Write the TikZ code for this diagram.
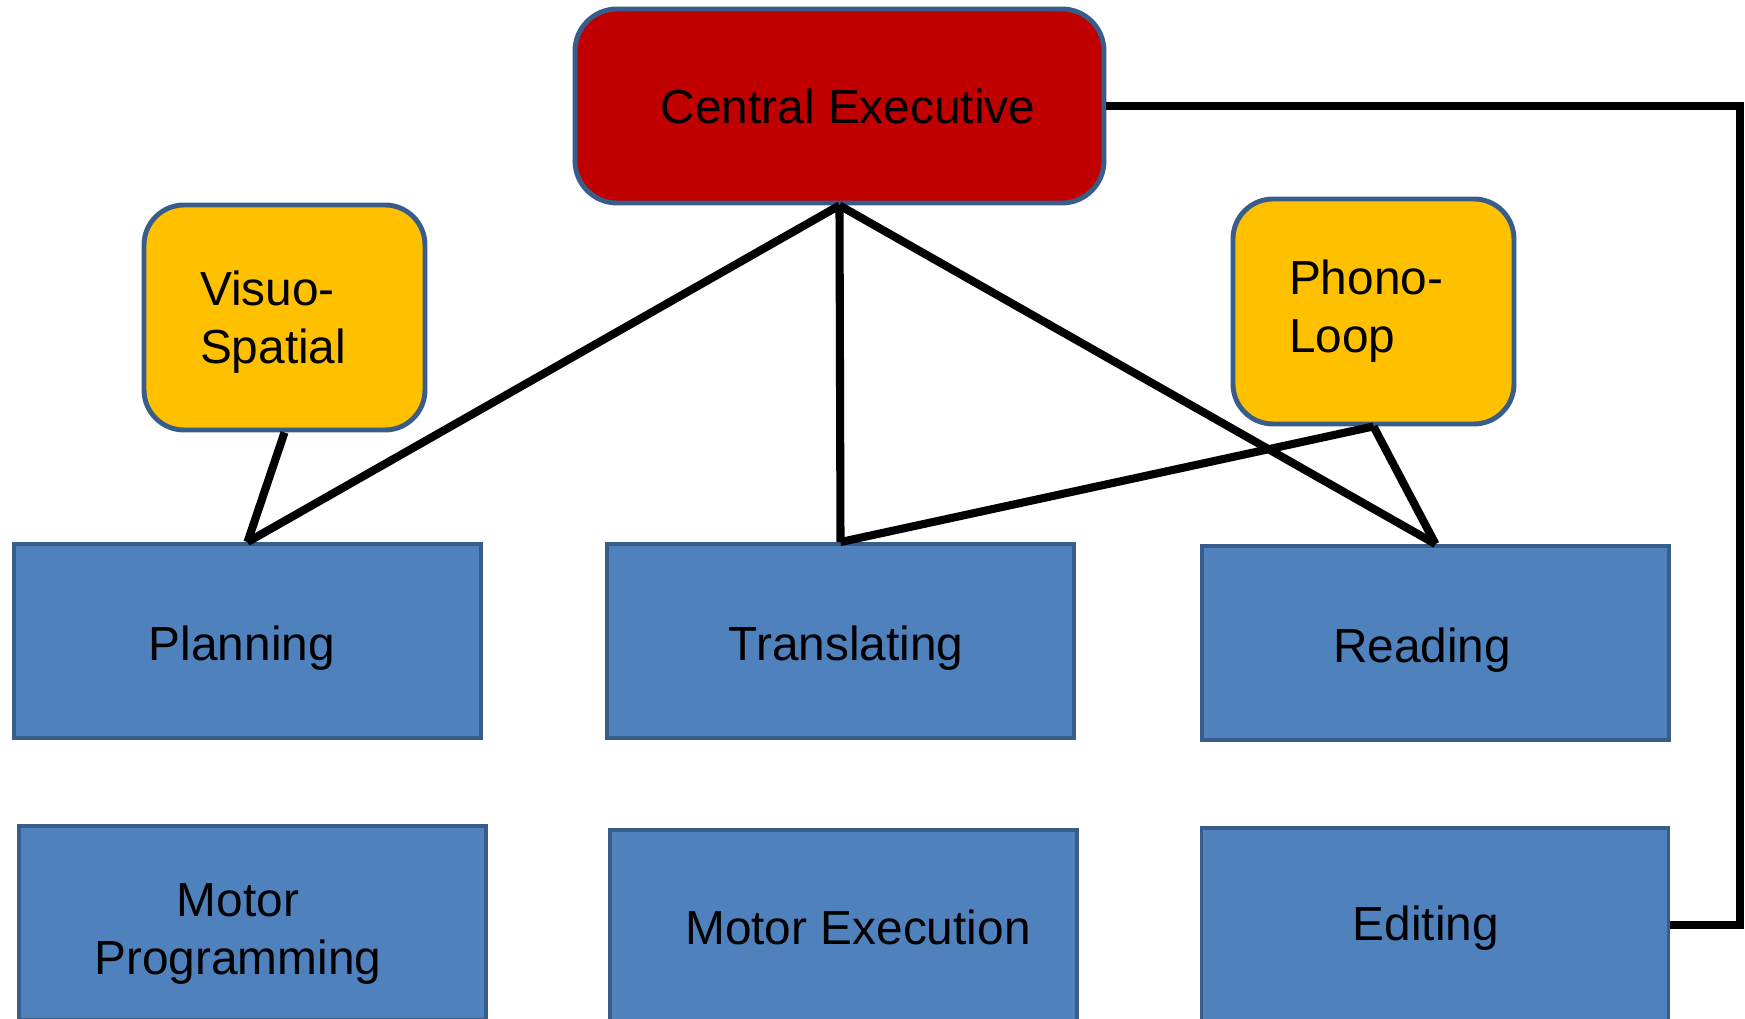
\documentclass[tikz,border=0pt]{standalone}
\usepackage{fontspec}
\setmainfont{Liberation Sans}
\definecolor{exred}{HTML}{C00000}
\definecolor{slaveyellow}{HTML}{FFC000}
\definecolor{procblue}{HTML}{4F81BD}
\definecolor{edgeblue}{HTML}{385D8A}
% move the ink of a text without changing its box
\newcommand{\nudge}[3]{\raisebox{#2}[\height][\depth]{\hspace*{#1}#3\hspace*{-#1}}}
\tikzset{
  executive/.style={draw=edgeblue, line width=1.4pt, fill=exred, rounded corners=0.42cm,
    minimum width=5.29cm, minimum height=1.94cm, font=\fontsize{13.6}{16.5}\selectfont},
  slave/.style={draw=edgeblue, line width=1.4pt, fill=slaveyellow, rounded corners=0.4cm,
    minimum width=2.81cm, minimum height=2.25cm, inner xsep=0.56cm, text width=1.69cm,
    align=left, font=\fontsize{13.6}{16.5}\selectfont},
  process/.style={draw=edgeblue, line width=1.1pt, fill=procblue,
    minimum width=4.67cm, minimum height=1.94cm, align=center,
    font=\fontsize{13.6}{16.5}\selectfont},
  link/.style={line width=2.3pt, black}
}
\begin{document}
\begin{tikzpicture}
  \useasboundingbox (0,0) rectangle (17.45,10.19);
  \clip (0,0) rectangle (17.45,10.19);

  % Central Executive
  \node[executive] (ce) at (8.395, 9.13) {\nudge{0.085cm}{0pt}{Central Executive}};

  % slave systems
  \node[slave] (visuo) at (2.845, 7.015)
    {\nudge{0pt}{-0.056cm}{\begin{tabular}{@{}l@{}}Visuo-\\Spatial\end{tabular}}};
  \node[slave] (phono) at (13.735, 7.075)
    {\begin{tabular}{@{}l@{}}Phono-\\Loop\end{tabular}};

  % writing processes
  \node[process] (planning) at (2.475, 3.78) {\nudge{-0.056cm}{-0.067cm}{Planning}};
  \node[process] (translating) at (8.405, 3.78) {\nudge{0.056cm}{-0.067cm}{Translating}};
  \node[process] (reading) at (14.355, 3.76) {\nudge{-0.134cm}{-0.067cm}{Reading}};

  % bottom row
  \node[process] (motorprog) at (2.525, 0.96)
    {\nudge{-0.145cm}{-0.106cm}{\begin{tabular}{@{}c@{}}Motor\\Programming\end{tabular}}};
  \node[process] (motorexec) at (8.435, 0.92) {\nudge{0.145cm}{0pt}{Motor Execution}};
  \node[process] (editing) at (14.35, 0.94) {\nudge{-0.09cm}{-0.033cm}{Editing}};

  % links from the executive
  \draw[link] (ce.south) -- (planning.north);
  \draw[link] (ce.south) -- (translating.north);
  \draw[link] (ce.south) -- (reading.north);

  % links from the slave systems
  \draw[link] (visuo.south) -- (planning.north);
  \draw[link] (phono.south) -- (translating.north);
  \draw[link] (phono.south) -- (reading.north);

  % loop round to Editing
  \coordinate (corner) at (17.40, 0.94);
  \draw[link] (ce.east) -| (corner) -- (editing.east);
\end{tikzpicture}
\end{document}
